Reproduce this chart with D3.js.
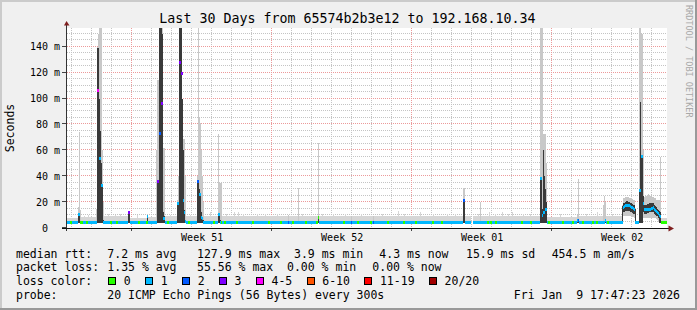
<!DOCTYPE html>
<html>
<head>
<meta charset="utf-8">
<script src="https://cdn.jsdelivr.net/npm/d3@7.9.0/dist/d3.min.js"></script>
<style>
  body { margin: 0; background: #f0f0f0; }
  svg { display: block; font-family: "DejaVu Sans Mono", monospace; }
  text { white-space: pre; }
</style>
</head>
<body>
<svg width="697" height="310"></svg>
<script>
// window: 30 days ending Fri Jan 9 17:47:23 2026, times below are hours into the window
const startTime = Date.UTC(2025, 11, 10, 17, 47, 23);
const spanHours = 720;
const stepHours = 1.2;

const title = "Last 30 Days from 65574b2b3e12 to 192.168.10.34";
const yTickValues = [0, 20, 40, 60, 80, 100, 120, 140];

// quiet periods: [fromHour, toHour, median ms, smoke top ms, lost pings]
const baseRuns = [
  [0, 13.2, 4.2, 8, 1],
  [16.8, 34.8, 4.2, 8.5, 1],
  [44.4, 73.2, 4.2, 9, 1],
  [75.6, 96, 4.2, 8, 1],
  [97.2, 106.8, 4.2, 8.5, 1],
  [117.6, 132, 4.2, 9, 1],
  [142.8, 156, 4.2, 9, 1],
  [164.4, 181.2, 4.2, 9.5, 1],
  [186, 265.2, 4.2, 9.5, 1],
  [266.4, 277.2, 4.2, 9.5, 1],
  [278.4, 301.2, 4.2, 9, 1],
  [302.4, 475.2, 4.2, 9.5, 1],
  [477.6, 484.8, 4.2, 9, 1],
  [487.2, 567.6, 4.2, 9.5, 1],
  [576, 612, 4.2, 8.5, 1],
  [614.4, 643.2, 4.2, 9, 1],
  [646.8, 666, 4.2, 9, 1],
  [712.8, 720, 4.2, 8, 0]
];

// single steps: [hour, median ms, lost pings, smoke low, dense low, dense high, smoke high]
const stepCols = [
  [13.2, 10.5, 1, 3.8, 3.8, 10.5, 16],
  [14.4, 10.5, 1, 3.8, 3.8, 11, 74],
  [15.6, 4.3, 0, 3.8, 3.8, 5, 14],
  [34.8, 4.3, 1, 3.8, 3.8, 5, 15],
  [36.0, 106.5, 4, 3.8, 3.8, 139, 140],
  [37.2, 106.5, 4, 3.8, 3.8, 139, 150],
  [38.4, 54, 1, 3.8, 3.8, 100, 155],
  [39.6, 54, 1, 3.8, 3.8, 75, 155],
  [40.8, 32.7, 1, 3.8, 3.8, 50, 155],
  [42.0, 32.7, 1, 3.8, 3.8, 34, 60],
  [43.2, 4.5, 1, 3.8, 3.8, 6, 20],
  [73.2, 11.8, 3, 3.8, 3.8, 12, 13],
  [74.4, 11.8, 3, 3.8, 3.8, 12, 13],
  [96.0, 8.5, 1, 3.8, 3.8, 8.7, 9.5],
  [106.8, 4.5, 1, 3.8, 3.8, 5, 60],
  [108.0, 36, 3, 3.8, 3.8, 37, 114],
  [109.2, 36, 3, 3.8, 3.8, 37, 114],
  [110.4, 72.8, 2, 3.8, 3.8, 155, 155],
  [111.6, 72.8, 2, 3.8, 3.8, 155, 155],
  [112.8, 96, 3, 3.8, 3.8, 155, 155],
  [114.0, 96, 3, 3.8, 3.8, 150, 155],
  [115.2, 7, 1, 3.8, 3.8, 12, 62],
  [116.4, 7, 1, 3.8, 3.8, 9, 62],
  [132.0, 19, 1, 3.8, 3.8, 20, 22],
  [133.2, 19, 1, 3.8, 3.8, 20, 40],
  [134.4, 128, 3, 3.8, 3.8, 155, 155],
  [135.6, 128, 3, 3.8, 3.8, 155, 155],
  [136.8, 119, 3, 3.8, 3.8, 155, 155],
  [138.0, 119, 3, 3.8, 3.8, 100, 100],
  [139.2, 21, 1, 3.8, 3.8, 60, 69],
  [140.4, 12, 1, 3.8, 3.8, 14, 69],
  [141.6, 5, 1, 3.8, 3.8, 6, 40],
  [156.0, 36, 2, 3.8, 3.8, 37, 40],
  [157.2, 36, 2, 3.8, 3.8, 37, 155],
  [158.4, 25.5, 1, 3.8, 3.8, 30, 85],
  [159.6, 25.5, 1, 3.8, 3.8, 27, 81],
  [160.8, 8, 1, 3.8, 3.8, 12, 60],
  [162.0, 7, 1, 3.8, 3.8, 8, 40],
  [163.2, 4.5, 1, 3.8, 3.8, 6, 20],
  [181.2, 10.6, 1, 3.8, 3.8, 10.6, 73],
  [182.4, 10.6, 1, 3.8, 3.8, 11, 35],
  [183.6, 4.5, 1, 3.8, 3.8, 6, 35],
  [184.8, 4.5, 0, 3.8, 3.8, 5, 35],
  [265.2, 4.5, 2, 3.8, 3.8, 5, 10],
  [277.2, 4.3, 1, 3.8, 3.8, 5, 31],
  [301.2, 8, 0, 3.8, 3.8, 8.7, 66],
  [340.8, 4.3, 2, 3.8, 3.8, 5, 9],
  [367.2, 4.3, 2, 3.8, 3.8, 5, 9],
  [475.2, 21, 2, 3.8, 3.8, 21.6, 31],
  [476.4, 21, 2, 3.8, 3.8, 21.6, 31],
  [495.6, 4.3, 1, 3.8, 3.8, 5, 20],
  [567.6, 38, 1, 3.8, 3.8, 38.6, 155],
  [568.8, 38, 1, 3.8, 3.8, 38.6, 155],
  [570.0, 10, 1, 3.8, 3.8, 15, 155],
  [571.2, 11.6, 1, 3.8, 3.8, 60, 73],
  [572.4, 11.6, 1, 3.8, 3.8, 40, 73],
  [573.6, 14, 1, 3.8, 3.8, 30, 73],
  [574.8, 14, 1, 3.8, 3.8, 20, 50],
  [612.0, 5.6, 1, 3.8, 3.8, 6, 10],
  [613.2, 5.6, 2, 3.8, 3.8, 6, 38],
  [643.2, 4.5, 1, 3.8, 3.8, 5, 18],
  [644.4, 4.5, 1, 3.8, 3.8, 5, 25],
  [645.6, 5.6, 1, 3.8, 3.8, 6, 20],
  [666.0, 4.3, 1, 3.8, 3.8, 17, 18],
  [667.2, 16, 1, 9, 12, 19, 23],
  [668.4, 16.5, 1, 9, 12.5, 19.5, 23.5],
  [669.6, 17, 1, 9, 13, 20, 24],
  [670.8, 17.5, 1, 9, 13.5, 20.5, 24],
  [672.0, 17.5, 1, 9, 13.5, 20.5, 24],
  [673.2, 17, 1, 9, 13, 20, 24],
  [674.4, 17, 1, 9, 13, 20, 23.5],
  [675.6, 16.5, 1, 9, 12.5, 19.5, 23],
  [676.8, 16, 1, 8.5, 12, 19, 23],
  [678.0, 15.5, 1, 8.5, 11.5, 18.5, 22.5],
  [679.2, 15, 1, 8.5, 11, 18, 22],
  [680.4, 14.5, 1, 8, 10.5, 17.5, 22],
  [681.6, 4.3, 1, 3.8, 3.8, 14.5, 15],
  [682.8, 4.3, 1, 3.8, 3.8, 4.5, 4.5],
  [684.0, 4.3, 1, 3.8, 3.8, 4.5, 4.5],
  [685.2, 4.3, 1, 3.8, 3.8, 4.5, 4.5],
  [686.4, 29, 1, 3.8, 3.8, 29, 155],
  [687.6, 29, 1, 3.8, 3.8, 97, 155],
  [688.8, 55, 1, 3.8, 3.8, 55, 150],
  [690.0, 55, 1, 3.8, 3.8, 55, 150],
  [691.2, 19, 1, 8, 12, 25, 60],
  [692.4, 14, 1, 8, 11, 18, 24],
  [693.6, 14, 1, 8, 11, 18, 25],
  [694.8, 14, 1, 8, 11, 18, 25],
  [696.0, 14.5, 1, 8, 11.5, 18.5, 25],
  [697.2, 14.5, 1, 8, 11.5, 18.5, 26],
  [698.4, 14.5, 1, 8, 12, 19, 25],
  [699.6, 14.5, 1, 8, 12, 19, 25],
  [700.8, 15, 1, 8, 12, 19, 24],
  [702.0, 15.2, 1, 8, 12, 19, 24],
  [703.2, 15.5, 1, 8, 12, 19, 24],
  [704.4, 14.5, 1, 7.5, 11, 18, 23],
  [705.6, 13.5, 1, 7.5, 10, 17, 23],
  [706.8, 12.6, 1, 7, 9.5, 16, 22],
  [708.0, 12, 1, 6, 9, 15, 22],
  [709.2, 11.3, 1, 5, 8, 14, 22],
  [710.4, 10, 1, 4, 4, 13, 22],
  [711.6, 8.7, 1, 3.8, 3.8, 12, 55]
];

// steps of the quiet periods where no ping was lost
const zeroLossHours = [3.6, 16.8, 22.8, 51.6, 58.8, 85.2, 94.8, 120, 145.2, 175.2, 188.4,
  202.8, 222, 241.2, 255.6, 270, 285.6, 298.8, 331.2, 348, 363.6, 384, 403.2, 417.6, 438,
  448.8, 504, 507.6, 513.6, 544.8, 555.6, 577.2, 594, 606, 618, 630, 634.8, 648];

// taller smoke in the quiet periods: [hour, smoke top ms]
const smokeBumps = [
  [20.4, 9.5], [25.2, 10], [49.2, 11], [57.6, 10], [63.6, 11], [84, 10], [123.6, 10],
  [147.6, 10], [171.6, 12], [190.8, 11], [200.4, 12], [205.2, 12], [211.2, 11], [228, 10.5],
  [237.6, 10.5], [252, 11], [282, 10.5], [306, 11], [319.2, 11], [333.6, 10.5], [352.8, 11],
  [378, 10.5], [397.2, 13], [404.4, 11], [423.6, 12], [439.2, 10.5], [456, 11], [465.6, 10.5],
  [493.2, 11], [506.4, 12], [513.6, 11], [522, 12], [529.2, 11], [534, 12], [547.2, 11],
  [555.6, 10.5], [591.6, 10.5], [622.8, 10.5], [636, 12], [654, 10.5]
];

// loss colour legend: [label, highest lost count, colour]
const lossBuckets = [
  ["0", 0, "#26ff00"], ["1", 1, "#00b8ff"], ["2", 2, "#0059ff"], ["3", 3, "#7e00ff"],
  ["4-5", 5, "#ff00ff"], ["6-10", 10, "#ff5500"], ["11-19", 19, "#ff0000"], ["20/20", 20, "#a10000"]
];

const rttStats = ["7.2 ms avg", "127.9 ms max", "3.9 ms min", "4.3 ms now", "15.9 ms sd", "454.5 m am/s"];
const lossStats = ["1.35 % avg", "55.56 % max", "0.00 % min", "0.00 % now"];
const probeText = "20 ICMP Echo Pings (56 Bytes) every 300s";
const stampText = "Fri Jan  9 17:47:23 2026";

// ---- drawing ----
const svg = d3.select("svg");
const W = 697, H = 310;
const plotLeft = 67, plotTop = 28, plotW = 600, plotH = 200;

const x = d3.scaleUtc()
  .domain([new Date(startTime), new Date(startTime + spanHours * 36e5)])
  .range([plotLeft, plotLeft + plotW]);
const at = h => x(new Date(startTime + h * 36e5));
const y = d3.scaleLinear().domain([0, 154.5]).range([plotTop + plotH, plotTop]);
const lossColor = n => lossBuckets.find(b => n <= b[1])[2];

svg.append("rect").attr("width", W).attr("height", H).attr("fill", "#f0f0f0");
// 3d frame
svg.append("path").attr("d", `M0,${H} V0 H${W} v2 H2 V${H} Z`).attr("fill", "#cbcbcb");
svg.append("path").attr("d", `M${W},0 V${H} H0 v-2 H${W - 2} V0 Z`).attr("fill", "#999999");

svg.append("rect").attr("x", plotLeft).attr("y", plotTop).attr("width", plotW).attr("height", plotH)
  .attr("fill", "#ffffff");

svg.append("clipPath").attr("id", "plotclip").append("rect")
  .attr("x", plotLeft).attr("y", plotTop).attr("width", plotW).attr("height", plotH);

// grid (behind the smoke)
const gridG = svg.append("g").attr("shape-rendering", "crispEdges");
const snap = v => Math.round(v) - 0.5;
const end = new Date(startTime + spanHours * 36e5);
const weeks = d3.utcSunday.range(new Date(startTime), end);
const days = d3.utcDay.range(new Date(startTime), end).filter(d => d.getUTCDay() !== 0);

gridG.selectAll(".hmin").data(d3.range(5, 155, 5).filter(v => v % 20 !== 0)).join("line")
  .attr("x1", plotLeft).attr("x2", plotLeft + plotW)
  .attr("y1", d => snap(y(d))).attr("y2", d => snap(y(d)))
  .attr("stroke", "#c4c4c4").attr("stroke-dasharray", "1,1");
gridG.selectAll(".vmin").data(days).join("line")
  .attr("y1", plotTop).attr("y2", plotTop + plotH)
  .attr("x1", d => snap(x(d))).attr("x2", d => snap(x(d)))
  .attr("stroke", "#c4c4c4").attr("stroke-dasharray", "1,1");
gridG.selectAll(".hmaj").data(yTickValues.filter(v => v > 0)).join("line")
  .attr("x1", plotLeft).attr("x2", plotLeft + plotW)
  .attr("y1", d => snap(y(d))).attr("y2", d => snap(y(d)))
  .attr("stroke", "#ec9a9a").attr("stroke-dasharray", "1,1");
gridG.selectAll(".vmaj").data(weeks).join("line")
  .attr("y1", plotTop).attr("y2", plotTop + plotH)
  .attr("x1", d => snap(x(d))).attr("x2", d => snap(x(d)))
  .attr("stroke", "#ec9a9a").attr("stroke-dasharray", "1,1");

const plot = svg.append("g").attr("clip-path", "url(#plotclip)")
  .attr("shape-rendering", "crispEdges");

// smoke
plot.append("g").selectAll("rect").data(baseRuns).join("rect")
  .attr("x", d => at(d[0])).attr("width", d => at(d[1]) - at(d[0]))
  .attr("y", d => y(d[3])).attr("height", d => y(3.8) - y(d[3]))
  .attr("fill", "#d6d6d6");

plot.append("g").selectAll("rect").data(smokeBumps).join("rect")
  .attr("x", d => at(d[0])).attr("width", d => at(d[0] + stepHours) - at(d[0]))
  .attr("y", d => y(d[1])).attr("height", d => y(3.8) - y(d[1]))
  .attr("fill", "#d6d6d6");

plot.append("g").selectAll("rect").data(stepCols).join("rect")
  .attr("x", d => at(d[0])).attr("width", d => at(d[0] + stepHours) - at(d[0]))
  .attr("y", d => y(d[6])).attr("height", d => y(d[3]) - y(d[6]))
  .attr("fill", "#c8c8c8");

plot.append("g").selectAll("rect").data(stepCols.filter(d => d[5] > d[4] + 0.5)).join("rect")
  .attr("x", d => at(d[0])).attr("width", d => at(d[0] + stepHours) - at(d[0]))
  .attr("y", d => y(d[5])).attr("height", d => y(d[4]) - y(d[5]))
  .attr("fill", "#3a3a3a");

// median marks coloured by loss
plot.selectAll(".run").data(baseRuns).join("rect").attr("class", "run")
  .attr("x", d => at(d[0])).attr("width", d => at(d[1]) - at(d[0]))
  .attr("y", d => y(d[2]) - 1.5).attr("height", 3)
  .attr("fill", d => lossColor(d[4]));
plot.selectAll(".ok").data(zeroLossHours).join("rect").attr("class", "ok")
  .attr("x", d => at(d)).attr("width", d => at(d + 2 * stepHours) - at(d))
  .attr("y", y(4.2) - 1.5).attr("height", 3)
  .attr("fill", lossColor(0));
plot.selectAll(".col").data(stepCols).join("rect").attr("class", "col")
  .attr("x", d => at(d[0])).attr("width", d => at(d[0] + stepHours) - at(d[0]))
  .attr("y", d => y(d[1]) - 1.5).attr("height", 3)
  .attr("fill", d => lossColor(d[2]));

// axes
const axisG = svg.append("g").attr("shape-rendering", "crispEdges");
axisG.selectAll(".ty").data(yTickValues).join("line")
  .attr("x1", plotLeft - 5).attr("x2", plotLeft - 1)
  .attr("y1", d => snap(y(d))).attr("y2", d => snap(y(d)))
  .attr("stroke", "#444");
axisG.selectAll(".tx").data(weeks).join("line")
  .attr("y1", plotTop + plotH).attr("y2", plotTop + plotH + 3)
  .attr("x1", d => snap(x(d))).attr("x2", d => snap(x(d)))
  .attr("stroke", "#444");
axisG.append("line").attr("x1", plotLeft - 0.5).attr("x2", plotLeft - 0.5)
  .attr("y1", plotTop + plotH + 3).attr("y2", plotTop - 3).attr("stroke", "#333");
axisG.append("line").attr("x1", plotLeft - 5).attr("x2", plotLeft + plotW + 2)
  .attr("y1", plotTop + plotH + 0.5).attr("y2", plotTop + plotH + 0.5).attr("stroke", "#111");
svg.append("path")
  .attr("d", `M${plotLeft - 3},${plotTop - 2.5} L${plotLeft + 2.5},${plotTop - 2.5} L${plotLeft - 0.5},${plotTop - 7} Z`)
  .attr("fill", "#7f1f1f");
svg.append("path")
  .attr("d", `M${plotLeft + plotW + 1.5},${plotTop + plotH - 2.5} L${plotLeft + plotW + 1.5},${plotTop + plotH + 3.5} L${plotLeft + plotW + 7},${plotTop + plotH + 0.5} Z`)
  .attr("fill", "#7f1f1f");

// labels
svg.append("g").selectAll("text").data(yTickValues).join("text")
  .attr("x", 60).attr("y", d => y(d) + 3.6)
  .attr("text-anchor", "end").attr("font-size", 10).attr("fill", "#000")
  .text(d => d === 0 ? "0  " : `${d} m`);

const weekFmt = d3.utcFormat("%V");
svg.append("g").selectAll("text")
  .data(weeks.map(d => new Date(+d + 3.5 * 864e5)).filter(d => d < end))
  .join("text")
  .attr("x", d => x(d)).attr("y", 241)
  .attr("text-anchor", "middle").attr("font-size", 10).attr("fill", "#000")
  .text(d => `Week ${weekFmt(d)}`);

svg.append("text").attr("x", 347.5).attr("y", 22.5).attr("text-anchor", "middle")
  .attr("font-size", 13.3).attr("fill", "#000").text(title);

svg.append("text").attr("transform", `translate(14,${plotTop + plotH / 2}) rotate(-90)`)
  .attr("text-anchor", "middle").attr("font-size", 11.5).attr("fill", "#000").text("Seconds");

svg.append("text").attr("transform", "translate(686,5) rotate(90)")
  .attr("font-size", 8.5).attr("fill", "#a8a8a8").text("RRDTOOL / TOBI OETIKER");

// legend
const lg = svg.append("g").attr("font-size", 11.5).attr("fill", "#000");
const rows = [257.5, 271.2, 284.8, 298.8];
const rttX = [107.3, 197, 294, 379.3, 466, 551.7];
const lossX = [107.3, 197, 287, 372.3];
lg.append("text").attr("x", 16).attr("y", rows[0]).text("median rtt:");
lg.selectAll(".rtt").data(rttStats).join("text").attr("class", "rtt")
  .attr("x", (d, i) => rttX[i]).attr("y", rows[0]).text(d => d);
lg.append("text").attr("x", 16).attr("y", rows[1]).text("packet loss:");
lg.selectAll(".pl").data(lossStats).join("text").attr("class", "pl")
  .attr("x", (d, i) => lossX[i]).attr("y", rows[1]).text(d => d);
lg.append("text").attr("x", 16).attr("y", rows[2]).text("loss color:");

const charW = 11.5 * 0.602;
let bx = 108.3;
lossBuckets.forEach(b => {
  lg.append("rect").attr("x", Math.round(bx) + 0.5).attr("y", 277.5)
    .attr("width", 7).attr("height", 7)
    .attr("fill", b[2]).attr("stroke", "#000").attr("shape-rendering", "crispEdges");
  lg.append("text").attr("x", bx + 15.5).attr("y", rows[2]).text(b[0]);
  bx = bx + 15.5 + b[0].length * charW + 14.5;
});

lg.append("text").attr("x", 16).attr("y", rows[3]).text("probe:");
lg.append("text").attr("x", 107.3).attr("y", rows[3]).text(probeText);
lg.append("text").attr("x", 680).attr("y", rows[3]).attr("text-anchor", "end").text(stampText);
</script>
</body>
</html>
